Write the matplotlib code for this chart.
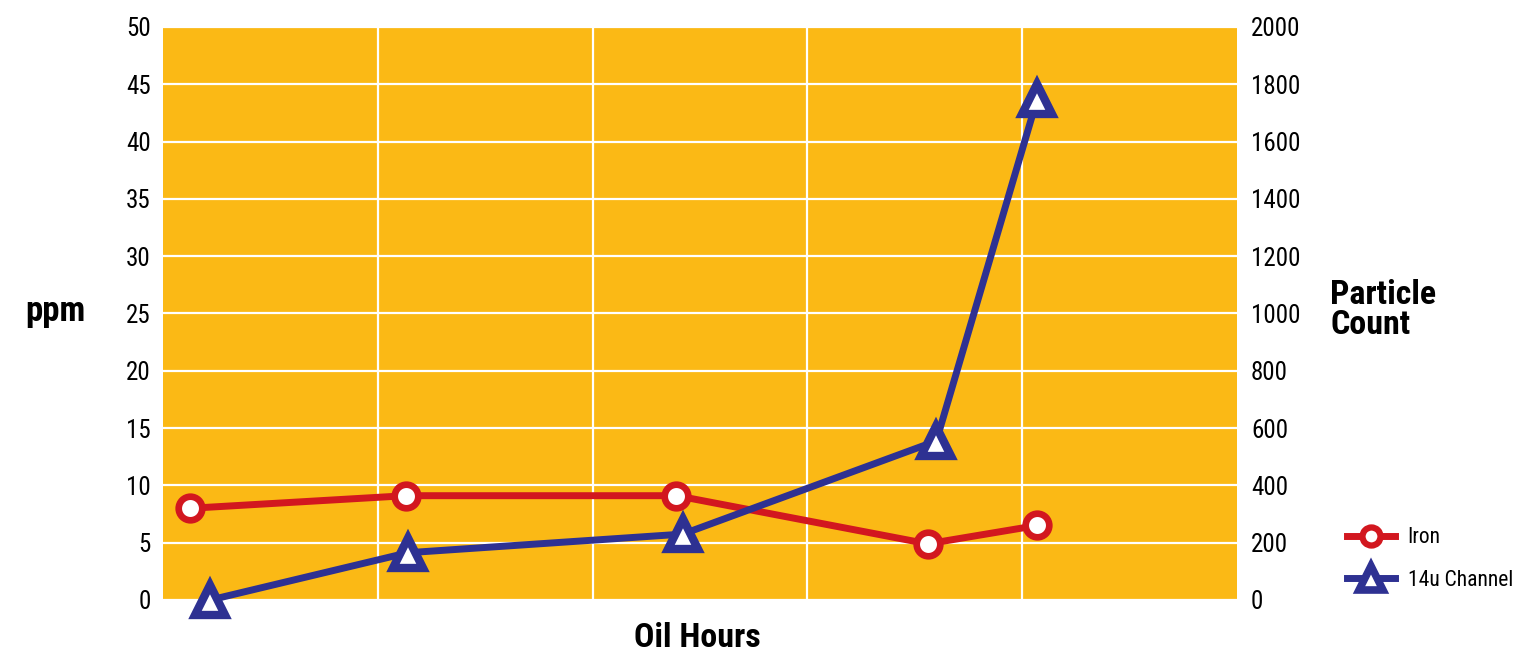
import matplotlib
matplotlib.use("Agg")
import matplotlib.pyplot as plt
from matplotlib.lines import Line2D

plt.rcParams['font.family'] = ['Roboto Condensed', 'Barlow Condensed', 'DejaVu Sans']

# Data (x in grid-column units of "Oil Hours")
iron_x = [0.126, 1.13, 2.39, 3.56, 4.07]
iron_ppm = [8.0, 9.1, 9.1, 4.9, 6.5]
ch14_x = [0.22, 1.14, 2.42, 3.60, 4.07]
ch14_count = [0, 165, 230, 555, 1750]

left_ticks = [0, 5, 10, 15, 20, 25, 30, 35, 40, 45, 50]
right_ticks = [0, 200, 400, 600, 800, 1000, 1200, 1400, 1600, 1800, 2000]
x_grid = [1, 2, 3, 4]

ORANGE = '#FBB915'
RED = '#D2171F'
BLUE = '#2E3192'

fig = plt.figure(figsize=(15.35, 6.56), dpi=100)
ax = fig.add_axes([0.1062, 0.0854, 0.6997, 0.8735])
ax.set_facecolor(ORANGE)
ax.set_xlim(0, 5)
ax.set_ylim(0, 50)
ax.set_xticks(x_grid)
ax.set_xticklabels([])
ax.set_yticks(left_ticks)
ax.grid(True, color='white', linewidth=1.6)
ax.tick_params(axis='both', length=0)
ax.tick_params(axis='y', labelsize=18, pad=9)
for s in ax.spines.values():
    s.set_visible(False)

ax2 = ax.twinx()
ax2.set_ylim(0, 2000)
ax2.set_yticks(right_ticks)
ax2.tick_params(axis='y', length=0, labelsize=18, pad=10)
for s in ax2.spines.values():
    s.set_visible(False)

ax.plot(iron_x, iron_ppm, color=RED, linewidth=5, marker='o', markersize=17,
        markerfacecolor='white', markeredgecolor=RED, markeredgewidth=4.8,
        clip_on=False, zorder=3)
ax2.plot(ch14_x, ch14_count, color=BLUE, linewidth=5, marker='^', markersize=21,
         markerfacecolor='white', markeredgecolor=BLUE, markeredgewidth=6,
         clip_on=False, zorder=3)

fig.text(25/1535, 1 - 312/656, 'ppm', fontsize=25, fontweight='black',
         ha='left', va='center')
fig.text(1330/1535, 1 - 310/656, 'Particle\nCount', fontsize=24.5, fontweight='black',
         ha='left', va='center', linespacing=0.95)
fig.text(697/1535, 1 - 638/656, 'Oil Hours', fontsize=24.5, fontweight='black',
         ha='center', va='center')

handles = [
    Line2D([], [], color=RED, linewidth=5, marker='o', markersize=13,
           markerfacecolor='white', markeredgecolor=RED, markeredgewidth=4.5),
    Line2D([], [], color=BLUE, linewidth=5, marker='^', markersize=17,
           markerfacecolor='white', markeredgecolor=BLUE, markeredgewidth=5.5),
]
fig.legend(handles, ['Iron', '14u Channel'], loc='center left',
           bbox_to_anchor=(1328/1535, 1 - 559/656), frameon=False,
           fontsize=15.5, handlelength=2.2, handletextpad=0.6, labelspacing=1.0)

fig.savefig('out.png', dpi=100)
